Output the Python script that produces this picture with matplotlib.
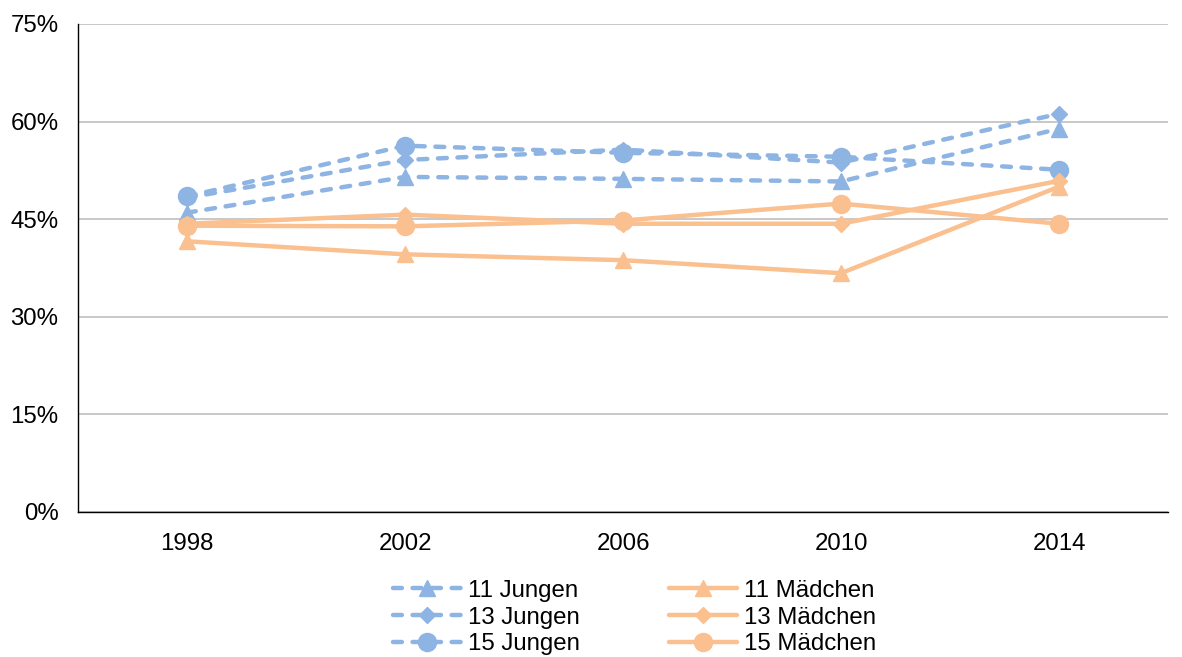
import numpy as np
import matplotlib.pyplot as plt
from matplotlib.ticker import PercentFormatter

plt.rcParams['font.family'] = ['Liberation Sans', 'DejaVu Sans']

years = ['1998', '2002', '2006', '2010', '2014']

jungen_11 = [46.0, 51.5, 51.2, 50.8, 58.9]
jungen_13 = [48.3, 54.1, 55.7, 53.7, 61.2]
jungen_15 = [48.5, 56.3, 55.2, 54.6, 52.6]
maedchen_11 = [41.6, 39.6, 38.7, 36.7, 50.0]
maedchen_13 = [44.3, 45.7, 44.3, 44.3, 50.9]
maedchen_15 = [44.0, 43.9, 44.8, 47.4, 44.3]

blue = '#8EB4E3'
orange = '#FAC090'

fig = plt.figure(figsize=(11.82, 6.57), dpi=100)
ax = fig.add_axes([78 / 1182, 1 - 512 / 657, 1090 / 1182, 488 / 657])

x = np.arange(len(years))
series = [
    (jungen_11, '11 Jungen', blue, '--', '^', 12),
    (jungen_13, '13 Jungen', blue, '--', 'D', 8.5),
    (jungen_15, '15 Jungen', blue, '--', 'o', 13),
    (maedchen_11, '11 Mädchen', orange, '-', '^', 12),
    (maedchen_13, '13 Mädchen', orange, '-', 'D', 8.5),
    (maedchen_15, '15 Mädchen', orange, '-', 'o', 13),
]
for vals, label, col, ls, mk, ms in series:
    ax.plot(x, vals, color=col, linestyle=ls, linewidth=3.2, marker=mk,
            markersize=ms, label=label, dashes=(2.0, 2.4) if ls == '--' else (None, None),
            dash_capstyle='round', solid_capstyle='round')

ax.set_xlim(-0.5, 4.5)
ax.set_ylim(0, 75)
ax.set_yticks([0, 15, 30, 45, 60, 75])
ax.yaxis.set_major_formatter(PercentFormatter(decimals=0))
ax.set_xticks(x)
ax.set_xticklabels(years)
ax.tick_params(axis='both', length=0, labelsize=17.3, colors='#000000')
ax.tick_params(axis='y', pad=14)
ax.tick_params(axis='x', pad=15)
ax.grid(axis='y', color='#BFBFBF', linewidth=1.2)
ax.set_axisbelow(True)
for s in ['top', 'right']:
    ax.spines[s].set_visible(False)
ax.spines['left'].set_color('#000000')
ax.spines['bottom'].set_color('#000000')
ax.spines['left'].set_linewidth(1)
ax.spines['bottom'].set_linewidth(1)

fig.legend(loc='center', bbox_to_anchor=(0.537, 0.060), ncol=2, frameon=False,
           fontsize=17.3, handlelength=2.83, columnspacing=3.7, labelspacing=0.2,
           handletextpad=0.3, borderpad=0.1)

fig.savefig('out.png', dpi=100)
